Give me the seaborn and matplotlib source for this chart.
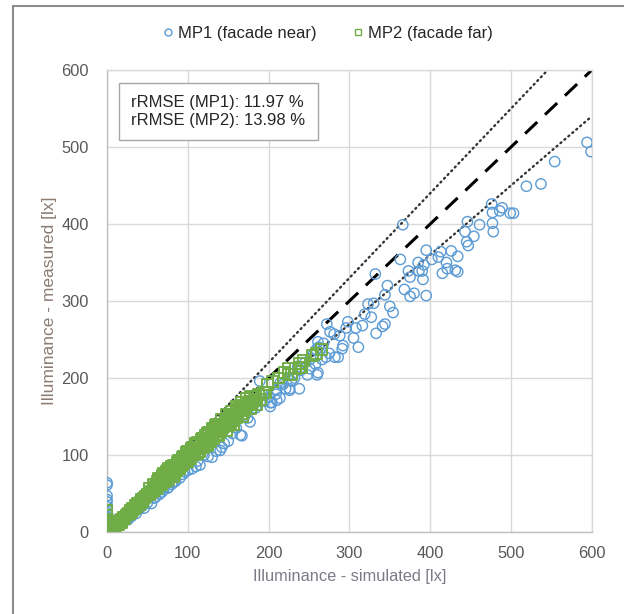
import numpy as np
import pandas as pd
import seaborn as sns
import matplotlib
matplotlib.use('Agg')
from matplotlib import pyplot as plt
from matplotlib.lines import Line2D
from matplotlib.patches import Rectangle

# --------------------------
# data
# --------------------------
mp1_sim = [594, 599, 554, 537, 519, 476, 477, 477, 478, 489, 486, 499, 503, 461, 454, 446, 443, 445, 447,
           366, 363, 332, 434, 426, 413, 410, 402, 395, 385, 392, 391, 373, 375, 386, 380, 395, 390, 420,
           415, 421, 431, 434, 347, 344, 350, 354, 368, 375, 344, 341, 333, 323, 330, 327, 319, 316, 308,
           311, 305, 298, 296, 292, 291, 288, 281, 276, 272, 282, 286, 266, 271, 261, 259, 261, 260, 248,
           251, 238, 226, 221, 228, 214, 209, 204, 202, 192, 189, 177, 167, 184, 142, 140, 130, 110, 115,
           94, 80, 75, 65, 55, 46, 36, 26, 16,
           214, 226, 210, 202, 174, 165, 120, 125, 135, 145, 150, 155, 160, 100, 105, 90, 85, 70, 60, 50,
           40, 30, 20, 10, 5, 170, 180, 195, 200, 210, 218, 232, 240, 245, 255, 262, 268, 275, 258, 252,
           236, 230, 112, 96, 82, 76, 68, 58, 44, 34, 24, 14, 8,
           0, 0, 0, 0, 0, 0, 0, 0, 0, 0, 0, 0, 0, 0, 2, 3, 1, 4]
mp1_meas = [506, 494, 481, 452, 449, 426, 415, 401, 390, 421, 417, 414, 414, 399, 384, 403, 390, 377, 372,
            399, 354, 335, 358, 365, 364, 357, 354, 366, 350, 347, 328, 339, 331, 339, 310, 307, 339, 350,
            336, 342, 340, 338, 320, 308, 293, 285, 315, 306, 270, 267, 258, 296, 297, 279, 283, 268, 265,
            240, 252, 273, 265, 242, 238, 255, 257, 260, 270, 227, 227, 224, 227, 247, 237, 207, 204, 204,
            212, 186, 186, 186, 196, 174, 179, 168, 163, 179, 196, 143, 125, 161, 110, 106, 97, 85, 87,
            75, 62, 57, 49, 37, 31, 24, 16, 9,
            193, 184, 171, 168, 148, 126, 100, 98, 105, 115, 118, 128, 135, 80, 82, 70, 66, 55, 45, 38,
            30, 20, 12, 5, 2, 150, 160, 170, 175, 185, 192, 200, 210, 220, 230, 240, 245, 232, 218, 225,
            215, 205, 92, 78, 64, 58, 52, 44, 34, 26, 18, 9, 4,
            64, 61, 47, 42, 39, 33, 29, 25, 19, 15, 10, 6, 3, 0, 5, 12, 22, 8]

mp2_sim = [266, 259, 254, 243, 238, 241, 233, 225, 224, 219, 199, 194, 196, 182, 179, 174, 164, 162, 154,
           147, 145, 135, 130, 122, 117, 110, 105, 98, 93, 88, 80, 75, 70, 65, 60, 50, 45, 38, 31, 26,
           21, 13, 8, 1, 0,
           185, 178, 170, 168, 160, 156, 150, 148, 140, 138, 132, 128, 125, 120, 115, 112, 108, 103, 100,
           96, 92, 90, 86, 84, 82, 78, 76, 72, 68, 66, 62, 58, 55, 52, 48, 44, 42, 40, 36, 34, 30, 28,
           24, 22, 18, 16, 12, 10, 6, 4, 2, 0, 0, 1, 0, 0, 3, 5, 7, 9, 14, 18, 190, 172, 158, 143, 127,
           113, 97, 85, 78, 72, 88, 95, 102, 108, 118, 124, 133, 140, 152, 160, 168, 176, 238, 228, 212,
           205, 0, 0, 0, 0,
           184, 176, 166, 163, 155, 151, 146, 142, 137, 134, 129, 126, 121, 118, 114, 110, 106, 104, 101,
           98, 94, 91, 89, 87, 83, 80, 77, 74, 71, 69, 67, 64, 61, 57, 54, 50, 47, 43, 39, 35, 32, 29,
           25, 20, 17, 11, 136, 144, 153, 162, 171, 180, 188, 123, 116, 107, 99, 93, 81, 73, 63, 56,
           52, 58, 64, 70, 76, 82, 88, 94, 100, 106, 112, 118, 124, 130, 136, 142, 148, 154, 160, 166,
           172, 178]
mp2_meas = [237, 232, 229, 223, 219, 214, 212, 212, 204, 207, 191, 181, 181, 171, 168, 166, 161, 153, 148,
            143, 138, 136, 130, 125, 120, 113, 108, 100, 95, 90, 85, 80, 75, 64, 59, 49, 44, 37, 29, 24,
            19, 14, 9, 6, 4,
            165, 160, 158, 150, 148, 140, 138, 132, 130, 125, 122, 118, 112, 110, 105, 102, 100, 96, 92,
            90, 86, 82, 80, 76, 72, 72, 68, 66, 62, 70, 58, 54, 52, 48, 46, 40, 38, 36, 33, 30, 27, 24,
            22, 18, 16, 14, 11, 8, 6, 3, 2, 0, 2, 1, 8, 12, 5, 7, 4, 6, 10, 12, 172, 162, 150, 135, 120,
            108, 94, 84, 78, 74, 86, 98, 104, 110, 118, 128, 133, 140, 150, 158, 164, 170, 214, 205, 200,
            195, 28, 22, 16, 10,
            176, 168, 154, 160, 145, 152, 141, 136, 131, 138, 124, 129, 116, 121, 109, 115, 101, 107, 97,
            103, 88, 93, 84, 90, 79, 83, 74, 79, 68, 73, 63, 69, 57, 56, 51, 48, 45, 42, 37, 34, 30, 28,
            23, 19, 15, 10, 126, 137, 142, 155, 163, 170, 178, 114, 111, 101, 92, 97, 77, 69, 66, 53,
            56, 62, 68, 76, 82, 86, 93, 98, 104, 110, 116, 122, 128, 134, 139, 146, 152, 157, 163, 168,
            173, 176]

rrmse_mp1 = 11.97
rrmse_mp2 = 13.98
ticks = [0, 100, 200, 300, 400, 500, 600]

blue = '#5b9bd5'
green = '#70ad47'

df1 = pd.DataFrame({'sim': mp1_sim, 'meas': mp1_meas})
df2 = pd.DataFrame({'sim': mp2_sim, 'meas': mp2_meas})

sns.set_theme(style='whitegrid')
plt.rcParams['font.family'] = ['Liberation Sans', 'DejaVu Sans']

fig = plt.figure(figsize=(6.24, 6.14), dpi=100)
ax = fig.add_axes([0.1715, 0.1336, 0.777, 0.7524])

# 1:1 line and +/-10 % lines (under the markers)
ref = np.array([0, 600])
ax.plot(ref, ref, color='black', lw=2.2, ls=(0, (5.5, 3.5)), zorder=2)
ax.plot(ref, ref * 1.1, color='#333333', lw=1.7, ls=(0, (0.5, 1.7)), dash_capstyle='round', zorder=2)
ax.plot(ref, ref * 0.9, color='#333333', lw=1.7, ls=(0, (0.5, 1.7)), dash_capstyle='round', zorder=2)

sns.scatterplot(data=df1, x='sim', y='meas', marker='o', s=55, ax=ax, zorder=3)
pts = ax.collections[-1]
pts.set_facecolor('none')
pts.set_edgecolor(blue)
pts.set_linewidth(1.0)

sns.scatterplot(data=df2, x='sim', y='meas', marker='s', s=62, ax=ax, zorder=4)
pts = ax.collections[-1]
pts.set_facecolor('none')
pts.set_edgecolor(green)
pts.set_linewidth(1.4)

ax.set_xlim(0, 600)
ax.set_ylim(0, 600)
ax.set_xticks(ticks)
ax.set_yticks(ticks)
ax.grid(True, color='#d9d9d9', lw=1)
ax.set_axisbelow(True)
for side in ['top', 'right']:
    ax.spines[side].set_color('#d9d9d9')
for side in ['left', 'bottom']:
    ax.spines[side].set_color('#bfbfbf')
for sp in ax.spines.values():
    sp.set_linewidth(1)
ax.tick_params(axis='x', length=0, labelsize=11.8, labelcolor='#595959', pad=10)
ax.tick_params(axis='y', length=0, labelsize=11.8, labelcolor='#595959', pad=13)

ax.set_xlabel('Illuminance - simulated [lx]', fontsize=11.8, color='#7b7b86', labelpad=6)
ax.set_ylabel('Illuminance - measured [lx]', fontsize=12.5, color='#8b7b73', labelpad=3)

ax.text(0.05, 0.945,
        f'rRMSE (MP1): {rrmse_mp1:.2f} %\nrRMSE (MP2): {rrmse_mp2:.2f} %',
        transform=ax.transAxes, ha='left', va='top', fontsize=12, color='#262626',
        linespacing=1.2, zorder=6,
        bbox=dict(boxstyle='square,pad=0.75', fc='white', ec='#a6a6a6', lw=1))

handles = [
    Line2D([], [], ls='none', marker='o', ms=5, mfc='none', mec=blue, mew=1),
    Line2D([], [], ls='none', marker='s', ms=5, mfc='none', mec=green, mew=1),
]
fig.legend(handles, ['MP1 (facade near)', 'MP2 (facade far)'], loc='center',
           bbox_to_anchor=(0.525, 0.946), ncol=2, frameon=False, fontsize=12,
           handlelength=0.6, handletextpad=0.3, columnspacing=2.2)

# outer frame of the figure
fig.patches.append(Rectangle((12.5 / 624, -0.02), 1.0, 1 - 5.5 / 614 + 0.02,
                             transform=fig.transFigure, fill=False,
                             ec='#8c8c8c', lw=1.5))

plt.savefig('out.png', dpi=100)
